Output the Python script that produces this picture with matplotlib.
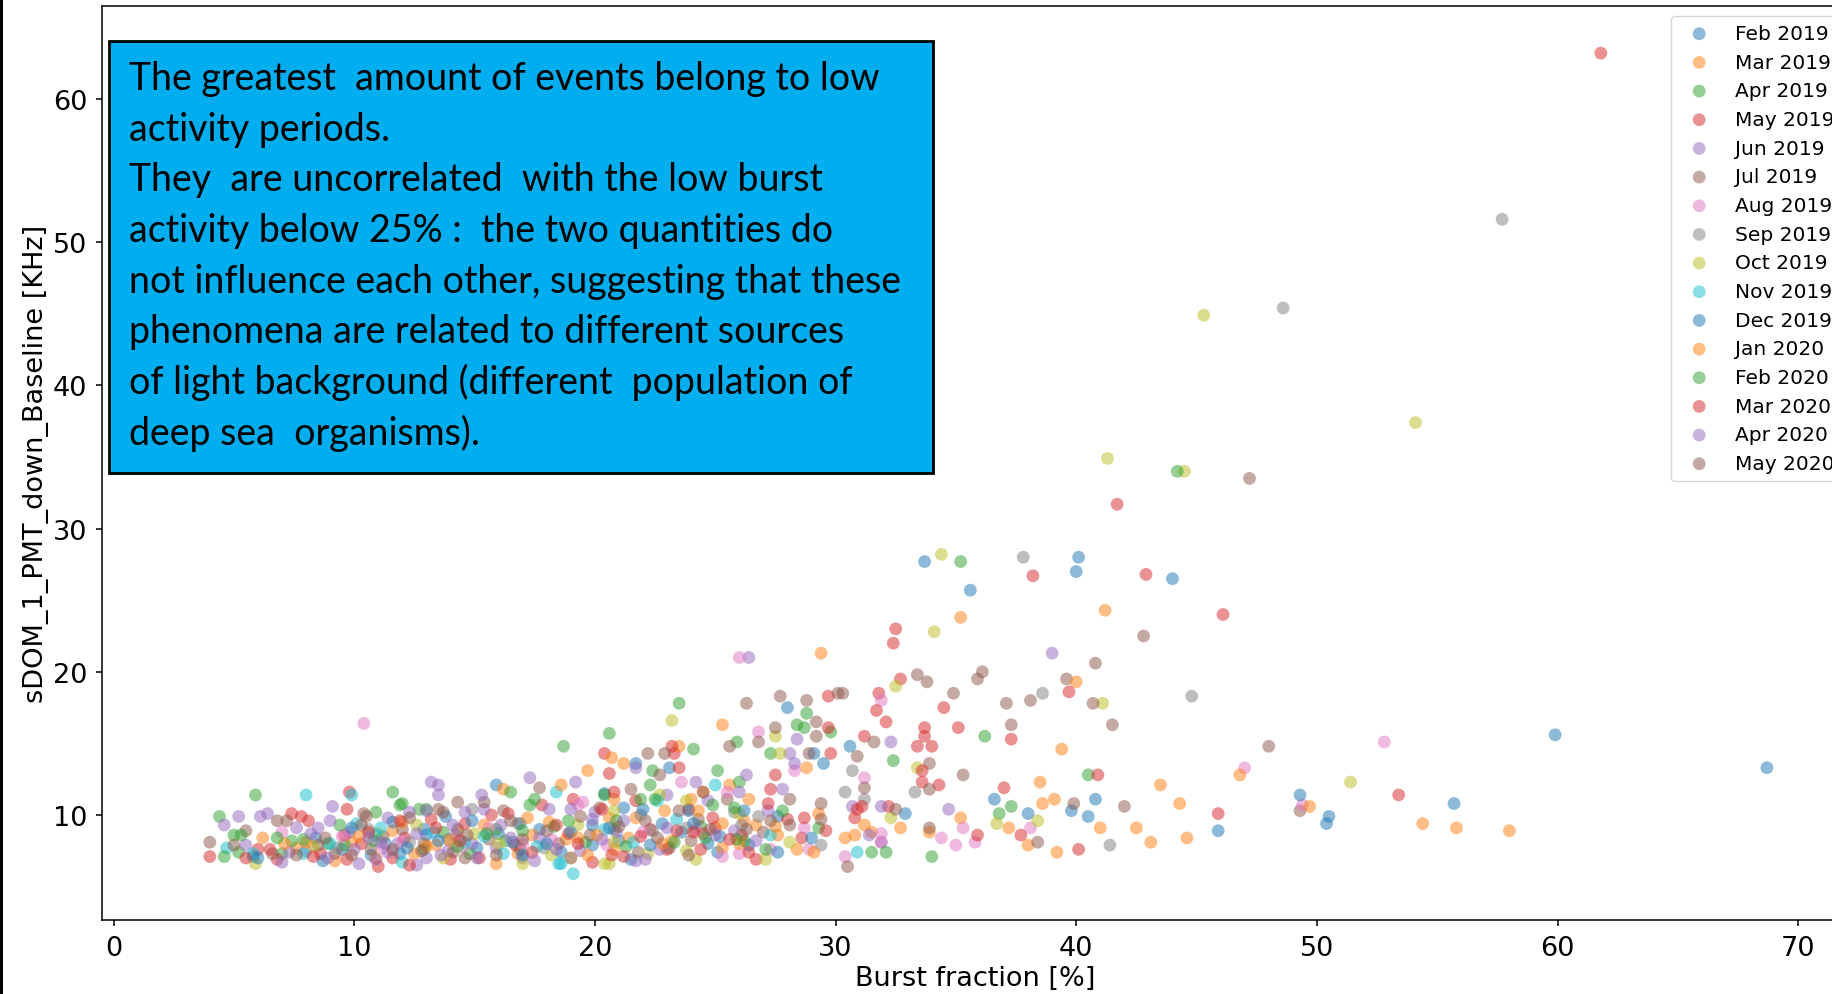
import numpy as np
import matplotlib.pyplot as plt
from matplotlib.patches import Rectangle

# (burst fraction %, baseline kHz), one list per month
feb_2019 = [(8.4, 8.4), (5.8, 7.1), (10.7, 7.2), (12.9, 9.0), (14.3, 9.0), (15.9, 12.1), (17.7, 9.0),
            (19.9, 7.9), (21.5, 6.9), (21.2, 10.5), (23.1, 13.3), (25.1, 7.4), (27.6, 9.9), (29.1, 14.3),
            (30.6, 14.8), (33.7, 27.7), (35.6, 25.7), (40.1, 28.0), (40.0, 27.0), (44.0, 26.5), (36.6, 11.1),
            (38.0, 10.1), (16.0, 8.7), (11.3, 8.0), (22.8, 9.4), (39.8, 10.3),
            (9.5, 7.6), (11.9, 7.3), (13.0, 8.6), (15.1, 7.7), (16.9, 9.4), (18.6, 7.4), (21.0, 8.2),
            (23.6, 8.8), (26.4, 7.9), (13.8, 9.9)]
mar_2019 = [(6.2, 8.4), (9.2, 6.8), (11.6, 8.9), (15.4, 9.3), (16.2, 11.8), (18.1, 9.5), (18.8, 8.3),
            (19.7, 13.1), (20.6, 9.8), (20.8, 7.6), (21.7, 9.8), (22.9, 10.3), (24.0, 11.1), (24.5, 11.6),
            (25.3, 7.7), (25.6, 12.1), (26.7, 9.3), (27.6, 8.6), (28.8, 13.3), (29.4, 21.3), (30.4, 8.4),
            (31.5, 8.8), (32.7, 9.1), (33.9, 8.8), (35.2, 23.8), (35.2, 9.8), (41.2, 24.3), (38.6, 10.8),
            (39.4, 14.6), (14.3, 8.9), (12.5, 7.3),
            (7.6, 7.7), (9.9, 8.1), (10.9, 7.0), (13.4, 7.9), (16.8, 7.3), (17.4, 8.6), (19.0, 7.0),
            (21.4, 8.4), (23.2, 8.2), (26.2, 9.6), (28.4, 7.6)]
apr_2019 = [(4.4, 9.9), (5.0, 8.6), (5.2, 7.4), (5.9, 11.4), (8.9, 8.0), (11.6, 11.6), (12.0, 10.8),
            (12.9, 7.6), (15.9, 9.0), (17.3, 10.7), (18.7, 14.8), (20.6, 15.7), (22.4, 13.1), (23.5, 17.8),
            (25.1, 13.1), (26.2, 8.2), (27.3, 14.3), (28.8, 17.1), (28.4, 16.3), (29.8, 15.8), (32.4, 13.8),
            (35.2, 27.7), (36.2, 15.5), (36.8, 10.1), (34.0, 7.1),
            (7.4, 8.2), (9.6, 7.9), (10.9, 10.2), (13.7, 8.8), (14.8, 7.3), (16.3, 8.2), (18.3, 9.2),
            (19.6, 8.1), (21.3, 7.8), (24.4, 9.2), (7.0, 7.3)]
may_2019 = [(4.0, 7.1), (6.0, 7.6), (6.8, 6.9), (7.8, 9.9), (8.1, 9.6), (9.6, 8.6), (9.8, 11.6),
            (11.0, 6.4), (13.2, 9.7), (14.0, 6.9), (15.7, 10.0), (17.8, 10.7), (19.1, 11.1), (19.9, 6.7),
            (20.4, 14.3), (21.7, 11.0), (23.0, 7.6), (23.3, 14.3), (23.9, 10.4), (24.5, 8.7), (25.0, 9.1),
            (26.7, 6.9), (27.3, 11.8), (28.0, 9.7), (29.7, 18.3), (29.8, 14.3), (30.8, 9.8), (31.8, 18.5),
            (32.5, 23.0), (32.7, 19.5), (33.7, 16.1), (33.4, 14.8), (33.6, 12.3), (35.1, 16.1), (37.0, 11.9),
            (38.2, 26.7), (41.7, 31.7), (42.9, 26.8), (45.9, 10.1), (40.1, 7.6),
            (8.6, 7.3), (10.3, 8.0), (12.1, 8.4), (14.6, 9.4), (16.7, 7.9), (18.9, 8.7), (21.2, 7.1),
            (22.3, 9.0), (26.1, 8.6), (28.6, 8.4), (11.6, 7.0)]
jun_2019 = [(4.6, 9.3), (5.5, 7.9), (6.4, 10.1), (7.3, 7.4), (8.5, 9.1), (9.1, 10.6), (10.2, 6.6),
            (11.4, 9.8), (12.6, 6.5), (13.2, 12.3), (13.5, 11.4), (13.9, 7.5), (14.9, 8.0), (15.4, 10.4),
            (17.0, 7.0), (18.1, 10.4), (19.2, 12.3), (20.0, 10.2), (21.7, 6.8), (23.0, 11.4), (24.7, 11.0),
            (26.4, 21.0), (27.2, 10.3), (28.1, 14.3), (30.7, 10.6), (31.9, 8.1), (32.3, 15.1), (39.0, 21.3),
            (8.0, 7.5), (9.8, 8.8), (11.8, 8.0), (13.0, 7.0), (14.2, 8.6), (15.9, 7.7), (17.7, 8.4),
            (19.4, 7.5), (20.9, 8.8), (22.7, 7.6), (25.8, 8.9), (10.9, 6.9)]
jul_2019 = [(4.0, 8.1), (6.6, 7.3), (6.8, 9.6), (8.5, 7.9), (10.4, 10.1), (10.7, 7.6), (12.0, 9.0),
            (13.5, 10.4), (14.3, 10.9), (15.4, 10.9), (16.2, 10.3), (17.7, 11.9), (20.2, 10.5), (22.1, 9.6),
            (22.7, 12.8), (23.1, 7.7), (24.3, 9.7), (25.5, 11.1), (26.3, 17.8), (27.7, 18.3), (28.1, 11.1),
            (29.2, 16.5), (30.1, 18.5), (30.9, 14.1), (33.4, 19.8), (33.9, 13.6), (35.9, 19.5), (37.1, 17.8),
            (38.1, 18.0), (39.6, 19.5), (40.8, 20.6), (42.8, 22.5), (47.2, 33.5), (39.9, 10.8), (49.3, 10.3),
            (5.5, 8.9), (9.2, 7.3), (11.2, 8.5), (12.9, 8.0), (14.1, 7.4), (15.6, 8.3), (16.9, 7.6),
            (18.5, 8.0), (19.8, 8.6), (21.8, 7.4), (24.0, 8.2), (27.0, 8.8)]
aug_2019 = [(10.4, 16.4), (26.0, 21.0), (26.8, 15.8), (31.9, 18.0), (52.8, 15.1), (47.0, 13.3), (49.4, 10.7),
            (31.2, 12.6), (28.3, 13.1), (35.3, 9.1), (38.1, 9.1), (34.4, 8.4), (35.0, 7.9), (35.8, 8.1),
            (30.4, 7.1), (31.9, 8.1), (31.9, 8.7), (28.7, 9.1), (28.9, 7.6), (27.3, 7.6), (26.0, 7.3),
            (25.5, 11.6), (25.3, 7.1), (23.6, 12.3), (19.5, 10.9), (19.3, 10.7), (17.0, 8.0), (14.5, 7.8),
            (12.0, 8.2), (9.5, 8.5), (7.0, 8.8), (22.0, 8.8),
            (11.2, 7.7), (15.6, 9.1), (18.2, 8.3), (20.5, 7.9), (24.2, 9.0)]
sep_2019 = [(57.7, 51.6), (48.6, 45.4), (37.8, 28.0), (44.8, 18.3), (38.6, 18.5), (41.4, 7.9), (30.7, 13.1),
            (33.3, 11.6), (30.4, 11.6), (31.2, 11.1), (29.4, 7.9), (26.8, 9.9), (26.1, 9.3), (25.8, 10.2),
            (19.0, 7.0), (14.9, 10.4), (22.4, 8.9), (16.8, 9.4), (12.3, 8.1), (9.3, 7.7), (23.8, 9.1),
            (10.6, 9.0), (13.9, 8.3), (17.9, 7.7), (20.8, 9.0), (21.9, 10.0)]
oct_2019 = [(45.3, 44.9), (54.1, 37.4), (41.3, 34.9), (44.5, 34.0), (34.4, 28.2), (34.1, 22.8), (32.5, 19.0),
            (41.1, 17.8), (51.4, 12.3), (27.5, 15.5), (27.7, 14.3), (33.4, 13.3), (32.3, 9.8), (38.4, 9.6),
            (36.7, 9.4), (5.9, 6.6), (23.2, 16.6), (24.2, 6.9), (23.8, 7.5), (23.8, 11.0), (22.7, 11.4),
            (20.8, 10.3), (20.6, 6.6), (20.8, 8.1), (20.4, 6.6), (18.2, 7.2), (17.0, 6.6), (28.1, 8.1),
            (27.1, 6.9), (26.0, 10.1), (15.0, 8.7), (11.0, 8.7), (12.6, 9.3),
            (8.3, 7.8), (13.7, 7.0), (16.0, 8.0), (19.3, 9.3), (22.2, 7.3)]
nov_2019 = [(8.0, 11.4), (9.9, 11.4), (4.7, 7.7), (19.1, 5.9), (18.4, 11.6), (30.9, 7.4), (25.0, 12.1),
            (27.3, 8.6), (22.6, 11.0), (18.6, 6.6), (18.5, 6.6), (12.0, 6.7), (11.1, 9.1), (10.9, 8.6),
            (10.1, 9.4), (14.6, 8.1), (16.2, 7.3), (5.8, 7.3), (7.9, 7.3), (20.4, 9.0),
            (9.0, 8.0), (13.3, 8.8), (15.4, 8.5), (17.6, 7.8), (21.6, 8.1), (23.4, 9.7)]
dec_2019 = [(8.7, 6.8), (6.0, 7.0), (13.5, 8.2), (17.0, 7.2), (18.0, 8.0), (19.9, 9.3), (20.6, 9.1),
            (20.4, 11.5), (21.7, 13.6), (22.3, 7.9), (23.9, 10.3), (24.7, 8.0), (25.2, 8.5), (26.2, 10.3),
            (27.6, 7.4), (28.0, 17.5), (29.0, 8.4), (29.5, 13.6), (32.9, 10.1), (40.8, 11.1), (40.5, 9.9),
            (45.9, 8.9), (49.3, 11.4), (50.5, 9.9), (50.4, 9.4), (55.7, 10.8), (59.9, 15.6), (68.7, 13.3),
            (9.9, 9.1), (11.6, 9.5), (12.2, 7.7), (14.9, 9.6), (16.6, 8.1), (19.0, 8.8), (22.0, 10.4),
            (24.1, 9.4)]
jan_2020 = [(8.0, 8.1), (15.9, 6.6), (18.6, 12.1), (19.3, 8.4), (19.7, 7.2), (20.7, 14.0), (20.8, 11.1),
            (21.2, 13.6), (23.5, 14.8), (24.3, 10.3), (25.3, 16.3), (25.3, 9.4), (26.0, 8.0), (26.4, 11.1),
            (29.1, 7.4), (29.3, 10.1), (30.8, 8.6), (31.2, 9.3), (37.2, 9.1), (38.0, 7.9), (38.5, 12.3),
            (39.1, 11.1), (39.2, 7.4), (40.0, 19.3), (41.0, 9.1), (42.5, 9.1), (43.1, 8.1), (43.5, 12.1),
            (44.3, 10.8), (44.6, 8.4), (46.8, 12.8), (49.7, 10.6), (54.4, 9.4), (55.8, 9.1), (58.0, 8.9),
            (13.0, 7.8),
            (7.1, 8.0), (10.2, 8.5), (12.0, 9.5), (14.0, 8.2), (17.2, 9.8), (20.1, 8.6), (22.8, 8.0),
            (27.5, 9.2)]
feb_2020 = [(4.6, 7.1), (5.3, 8.6), (6.8, 8.4), (11.9, 10.7), (12.7, 10.4), (13.0, 10.4), (16.5, 11.6),
            (17.0, 8.9), (17.5, 11.1), (20.4, 11.4), (21.9, 11.1), (22.3, 12.1), (22.5, 11.1), (23.3, 8.1),
            (24.1, 14.6), (24.9, 10.7), (25.8, 10.5), (25.9, 15.1), (26.0, 12.3), (25.9, 8.3), (27.1, 7.6),
            (27.8, 10.3), (28.7, 16.1), (29.3, 9.1), (31.5, 7.4), (32.1, 7.4), (37.3, 10.6), (40.5, 12.8),
            (44.2, 34.0),
            (7.9, 8.3), (9.4, 9.3), (10.8, 8.2), (14.3, 7.8), (15.5, 8.7), (18.9, 9.6), (20.9, 9.6),
            (24.6, 8.4)]
mar_2020 = [(6.5, 7.6), (7.4, 10.1), (9.7, 6.9), (9.7, 10.4), (12.3, 6.5), (13.4, 9.1), (15.2, 7.0),
            (16.4, 10.1), (18.4, 9.3), (20.3, 10.4), (20.6, 12.9), (20.7, 7.2), (20.8, 11.6), (23.2, 14.8),
            (23.4, 8.9), (23.5, 13.3), (24.1, 8.8), (24.4, 7.6), (24.9, 9.8), (25.6, 8.3), (27.2, 10.8),
            (27.5, 12.8), (28.7, 9.8), (29.7, 16.1), (30.9, 10.4), (31.1, 10.6), (31.2, 15.5), (31.7, 17.3),
            (32.1, 16.5), (32.2, 10.6), (32.4, 22.0), (33.6, 13.1), (33.7, 15.5), (34.0, 14.8), (34.3, 12.1),
            (34.5, 17.5), (35.9, 8.6), (37.3, 15.3), (37.7, 8.6), (39.7, 18.6), (40.9, 12.8), (46.1, 24.0),
            (53.4, 11.4), (61.8, 63.2),
            (5.5, 7.0), (8.3, 7.1), (10.6, 8.8), (11.9, 9.6), (14.4, 8.2), (17.4, 7.4), (19.3, 8.0),
            (21.9, 8.5), (26.4, 7.4), (29.6, 8.9)]
apr_2020 = [(5.2, 9.9), (6.1, 9.9), (7.0, 6.7), (7.6, 9.1), (9.0, 9.6), (10.0, 7.6), (10.6, 8.4),
            (11.4, 7.4), (12.3, 10.2), (13.0, 10.3), (13.5, 12.1), (13.6, 7.2), (14.6, 10.2), (15.3, 11.4),
            (16.5, 8.4), (17.3, 12.6), (17.5, 6.8), (19.0, 10.4), (19.9, 9.7), (21.2, 9.6), (21.7, 13.3),
            (22.1, 6.9), (24.2, 12.3), (26.0, 11.6), (26.3, 12.8), (26.7, 8.2), (27.8, 11.8), (28.3, 13.6),
            (28.4, 15.3), (31.4, 8.6), (31.9, 10.6), (34.7, 10.4),
            (8.9, 7.0), (11.1, 8.1), (12.6, 8.7), (14.1, 9.3), (15.1, 7.0), (16.1, 9.3), (18.4, 7.6),
            (20.3, 8.3), (23.0, 9.1), (25.0, 8.6), (8.2, 8.7)]
may_2020 = [(7.2, 9.6), (7.6, 7.2), (10.3, 9.3), (10.5, 9.9), (11.6, 7.6), (12.3, 9.8), (13.7, 10.2),
            (14.7, 8.6), (15.9, 7.2), (17.0, 8.3), (21.5, 11.8), (22.2, 14.3), (22.6, 8.4), (22.9, 14.3),
            (23.5, 10.3), (24.5, 11.6), (24.8, 9.0), (25.6, 14.8), (26.3, 9.0), (26.8, 15.1), (27.5, 16.1),
            (28.1, 9.3), (28.8, 18.0), (28.9, 14.3), (29.2, 15.5), (29.4, 10.8), (29.4, 9.7), (30.3, 18.5),
            (30.5, 6.4), (31.2, 11.9), (31.6, 15.1), (32.5, 10.4), (33.8, 19.3), (33.9, 11.8), (33.9, 9.1),
            (34.9, 18.5), (35.3, 12.8), (36.1, 20.0), (37.3, 16.3), (38.4, 8.1), (40.7, 17.8), (41.5, 16.3),
            (42.0, 10.6), (48.0, 14.8),
            (5.0, 7.9), (8.8, 8.4), (9.9, 7.2), (12.8, 7.5), (14.6, 7.0), (16.5, 9.6), (18.0, 8.9),
            (19.4, 9.9), (21.0, 9.2), (23.9, 7.2), (27.3, 9.6)]

months = ['Feb 2019', 'Mar 2019', 'Apr 2019', 'May 2019', 'Jun 2019', 'Jul 2019', 'Aug 2019', 'Sep 2019',
          'Oct 2019', 'Nov 2019', 'Dec 2019', 'Jan 2020', 'Feb 2020', 'Mar 2020', 'Apr 2020', 'May 2020']
month_data = [feb_2019, mar_2019, apr_2019, may_2019, jun_2019, jul_2019, aug_2019, sep_2019,
              oct_2019, nov_2019, dec_2019, jan_2020, feb_2020, mar_2020, apr_2020, may_2020]

note_lines = ["The greatest  amount of events belong to low",
              "activity periods.",
              "They  are uncorrelated  with the low burst",
              "activity below 25% :  the two quantities do",
              "not influence each other, suggesting that these",
              "phenomena are related to different sources",
              "of light background (different  population of",
              "deep sea  organisms)."]

W, H = 1833, 995
fig = plt.figure(figsize=(W / 100, H / 100), dpi=100)
ax = fig.add_axes([102 / W, 74.3 / H, 1746 / W, 913.7 / H])

for name, pts in zip(months, month_data):
    arr = np.array(pts)
    ax.scatter(arr[:, 0], arr[:, 1], s=85, alpha=0.5, edgecolors='none', label=name)

ax.set_xlim(-0.48, 72.07)
ax.set_ylim(2.69, 66.49)
ax.set_xticks(range(0, 71, 10))
ax.set_yticks(range(10, 61, 10))
ax.tick_params(labelsize=19.5, length=4.2, width=1.1, pad=6.5)
for sp in ax.spines.values():
    sp.set_linewidth(1.1)
ax.set_xlabel('Burst fraction [%]', fontsize=19.5, labelpad=3)
ax.set_ylabel('sDOM_1_PMT_down_Baseline [KHz]', fontsize=19.5, labelpad=3)

leg = ax.legend(loc='upper left', bbox_to_anchor=(1671 / W, 1 - 17 / H), bbox_transform=fig.transFigure,
                borderaxespad=0, fontsize=14.5, labelspacing=0.48)

# note box
fig.patches.append(Rectangle((109 / W, 1 - 474 / H), 824 / W, 432 / H, transform=fig.transFigure,
                             facecolor='#00AEEF', edgecolor='black', linewidth=2, zorder=5))
for i, line in enumerate(note_lines):
    fig.text(129 / W, 1 - (90 + 50.7 * i) / H, line, fontsize=27, family='Lato',
             va='baseline', ha='left', zorder=6)

# dark strip along the left edge
fig.patches.append(Rectangle((0, 0), 3.5 / W, 1, transform=fig.transFigure,
                             facecolor='black', edgecolor='none', zorder=10))

fig.savefig('out.png', dpi=100)
